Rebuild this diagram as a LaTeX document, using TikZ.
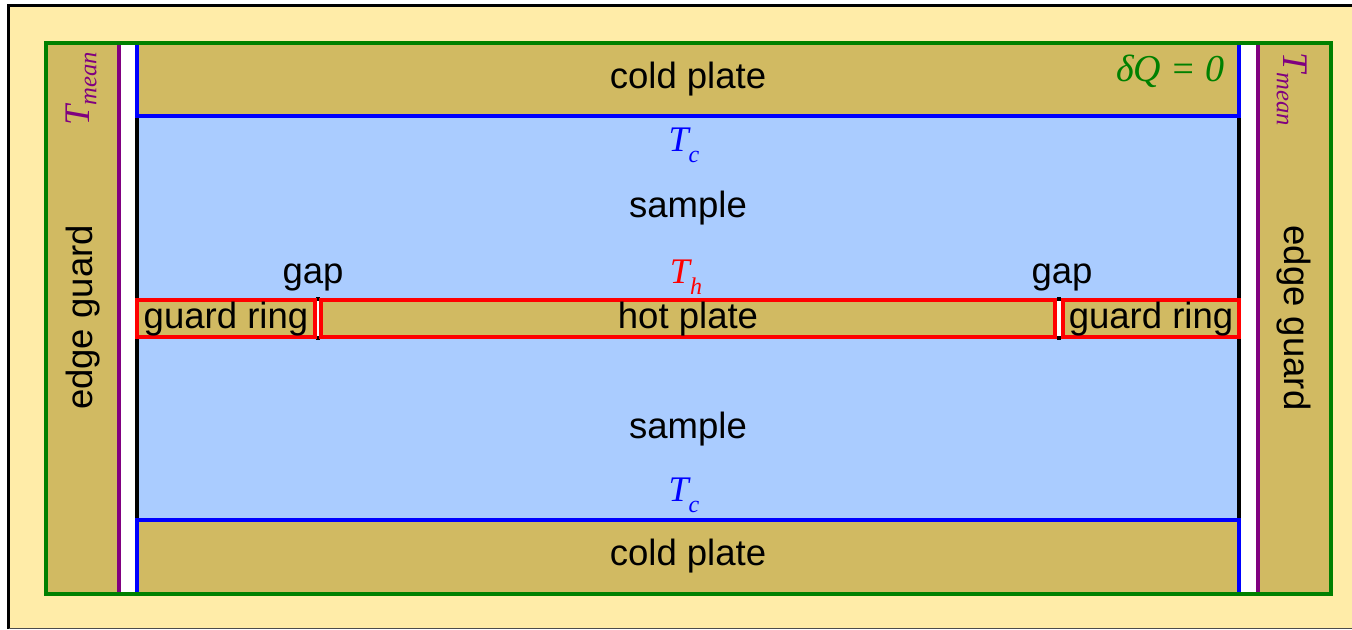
\documentclass[tikz,border=0pt]{standalone}
\usepackage{fontspec}
\setmainfont{Liberation Sans}
\newfontfamily\tempfont{Liberation Serif}
\definecolor{creamback}{HTML}{FFECA8}
\definecolor{platefill}{HTML}{D1BA62}
\definecolor{samplefill}{HTML}{AACCFF}
\definecolor{guardgreen}{HTML}{008000}
\definecolor{meanpurple}{HTML}{800080}
\tikzset{
  label text/.style={font=\fontsize{27.4}{30}\selectfont,text=black,inner sep=0pt},
  temp text/.style={font=\fontsize{27}{30}\tempfont\itshape,inner sep=0pt},
}
\begin{document}
\begin{tikzpicture}[x=.75pt,y=-.75pt]
    \useasboundingbox (0,0) rectangle (1352,629);
    % background
    \fill[white] (0,0) rectangle (1352,629);
    \fill[creamback] (8.5,5.5) rectangle (1352,628);
    \draw[black,line width=2.25pt] (8.5,629) -- (8.5,5.5) -- (1352,5.5);
    \draw[black!70,line width=.75pt] (8.5,628.5) -- (1352,628.5);
    % fills
    \fill[platefill] (45.5,42.5) rectangle (1330.5,593.5);
    \fill[white] (119,42.5) rectangle (137,593.5);
    \fill[white] (1239,42.5) rectangle (1257.5,593.5);
    \fill[samplefill] (137,116) rectangle (1239,520);
    % side lines
    \draw[black,line width=3pt] (137,116) -- (137,520);
    \draw[black,line width=3pt] (1239,116) -- (1239,520);
    \draw[meanpurple,line width=3pt] (119,42.5) -- (119,593.5);
    \draw[meanpurple,line width=3pt] (1257.5,42.5) -- (1257.5,593.5);
    % cold plates
    \draw[blue,line width=3pt] (137,42.5) -- (137,116) -- (1239,116) -- (1239,42.5);
    \draw[blue,line width=3pt] (137,593.5) -- (137,520) -- (1239,520) -- (1239,593.5);
    % gaps
    \draw[black,line width=3pt] (317.5,297) -- (317.5,339.5);
    \draw[black,line width=3pt] (1059,297) -- (1059,339.5);
    \fill[white] (315,300.5) rectangle (320,336);
    \fill[white] (1056.5,300.5) rectangle (1061.5,336);
    % hot plate and guard rings
    \draw[red,line width=3pt,fill=platefill] (137,300) rectangle (314.5,336.5);
    \draw[red,line width=3pt,fill=platefill] (321,300) rectangle (1055,336.5);
    \draw[red,line width=3pt,fill=platefill] (1063,300) rectangle (1239,336.5);
    % outer frame
    \draw[guardgreen,line width=3pt] (45.5,42.5) rectangle (1330.5,593.5);
    % labels
    \node[label text] (coldtop) at (688,79) {cold plate};
    \node[label text] (coldbottom) at (688,556) {cold plate};
    \node[label text] (sampletop) at (688,208) {sample};
    \node[label text] (samplebottom) at (688,429) {sample};
    \node[label text] (hotplate) at (688,319) {hot plate};
    \node[label text] (ringleft) at (226,319) {guard ring};
    \node[label text] (ringright) at (1151,319) {guard ring};
    \node[label text] (gapleft) at (313,277) {gap};
    \node[label text] (gapright) at (1062,277) {gap};
    \node[label text,rotate=90] (edgeleft) at (83,317.5) {edge guard};
    \node[label text,rotate=-90] (edgeright) at (1294,318) {edge guard};
    \node[temp text,blue] (tctop) at (684,145) {T\raisebox{-.3em}{\fontsize{18}{20}\selectfont c}};
    \node[temp text,blue] (tcbottom) at (684,495) {T\raisebox{-.3em}{\fontsize{18}{20}\selectfont c}};
    \node[temp text,red] (thot) at (686,277) {T\raisebox{-.3em}{\fontsize{18}{20}\selectfont h}};
    \node[temp text,guardgreen,anchor=east] (dq) at (1225,71) {\fontsize{28.5}{32}\selectfont δQ = 0};
    \node[temp text,meanpurple,rotate=90] (tmeanleft) at (81,89) {T\raisebox{-.2em}{\fontsize{18.5}{24}\selectfont mean}};
    \node[temp text,meanpurple,rotate=-90] (tmeanright) at (1292,89) {T\raisebox{-.2em}{\fontsize{18.5}{24}\selectfont mean}};
\end{tikzpicture}
\end{document}
